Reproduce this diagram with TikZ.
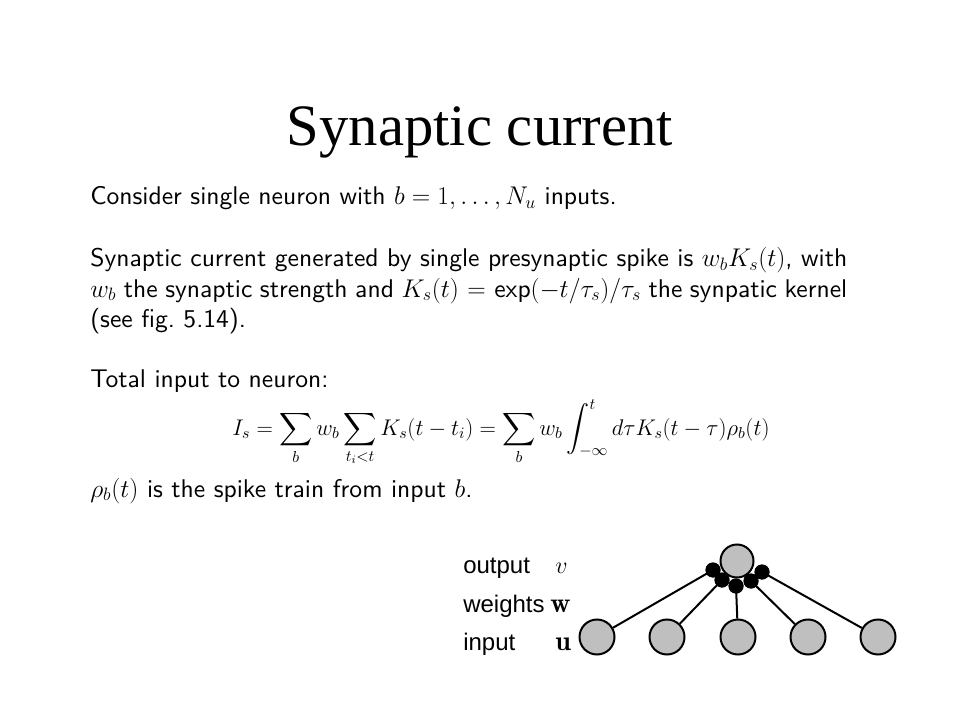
\RequirePackage{fix-cm}
\documentclass[tikz,border=0pt]{standalone}
\usepackage{amsmath}
\usepackage{fontspec}
\newfontfamily\titlefont{Liberation Serif}
\newfontfamily\labelfont{Liberation Sans}
\newfontfamily\bodyfont{lmsans10-regular.otf}
\definecolor{nodegray}{RGB}{191,191,191}
\newcommand{\justline}[1]{\makebox[567.75pt][s]{#1}}
\tikzset{
  body/.style={anchor=base west, inner sep=0pt, font=\bodyfont\fontsize{19.2}{22}\selectfont},
  eqn/.style={anchor=base, inner sep=0pt, font=\fontsize{17}{20}\selectfont},
  lab/.style={anchor=base west, inner sep=0pt, font=\labelfont\fontsize{18}{20}\selectfont},
  sym/.style={anchor=base west, inner sep=0pt, font=\fontsize{18}{20}\selectfont},
  bsym/.style={anchor=base west, inner sep=0pt, font=\fontsize{21}{24}\selectfont},
  neuron/.style={circle, draw=black, line width=1.5pt, fill=nodegray, minimum size=#1, inner sep=0pt},
  syn/.style={circle, fill=black, minimum size=11.25pt, inner sep=0pt},
  wire/.style={line width=1.5pt}
}
\begin{document}
\begin{tikzpicture}[x=0.75pt, y=-0.75pt]
\useasboundingbox (0,0) rectangle (960,720);
% title
\node[anchor=base, inner sep=0pt, font=\titlefont\fontsize{44}{50}\selectfont] (title) at (480,146) {Synaptic current};
% body text
\node[body] (l1) at (90,205) {Consider single neuron with $b=1,\dots,N_u$ inputs.};
\node[body] (l2) at (90,267) {\justline{Synaptic current generated by single presynaptic spike is $w_bK_s(t)$, with}};
\node[body] (l3) at (90,297) {\spaceskip=0.15em plus 0.3em minus 0.05em\thickmuskip=4mu plus 4mu minus 2mu\justline{$w_b$ the synaptic strength and $K_s(t)=\textsf{\bodyfont exp}(-t/\tau_s)/\tau_s$ the synpatic kernel}};
\node[body] (l4) at (90,327) {(see fig.\ 5.14).};
\node[body] (l5) at (90,387) {Total input to neuron:};
\node[eqn] (eq) at (501,435) {$\displaystyle I_s=\sum_b w_b\sum_{t_i<t}K_s(t-t_i)=\sum_b w_b\int_{-\infty}^{t}d\tau K_s(t-\tau)\rho_b(t)$};
\node[body] (l7) at (90,497) {$\rho_b(t)$ is the spike train from input $b$.};
% network labels
\node[lab] (lout) at (463,573) {output};
\node[lab] (lw) at (463,612) {weights};
\node[lab] (lin) at (463,650) {input};
\node[sym] (sv) at (555,573) {$v$};
\node[bsym] (sw) at (550,612) {$\mathbf{w}$};
\node[bsym] (su) at (555,650) {$\mathbf{u}$};
% input neurons
\node[neuron=26.25pt] (u1) at (597,637) {};
\node[neuron=26.25pt] (u2) at (667,637) {};
\node[neuron=26.25pt] (u3) at (738,637) {};
\node[neuron=26.25pt] (u4) at (808,637) {};
\node[neuron=26.25pt] (u5) at (878,637) {};
% synapses
\coordinate (out) at (737,561);
\node[syn] (s1) at (713,570) {};
\node[syn] (s2) at (722,580) {};
\node[syn] (s3) at (736,586) {};
\node[syn] (s4) at (751,581) {};
\node[syn] (s5) at (762,572) {};
\draw[wire] (u1) -- (s1.center);
\draw[wire] (u2) -- (s2.center);
\draw[wire] (u3) -- (s3.center);
\draw[wire] (u4) -- (s4.center);
\draw[wire] (u5) -- (s5.center);
\foreach \i in {1,...,5} { \node[syn] at (s\i) {}; }
% output neuron
\node[neuron=24.75pt] (v) at (out) {};
\end{tikzpicture}
\end{document}
